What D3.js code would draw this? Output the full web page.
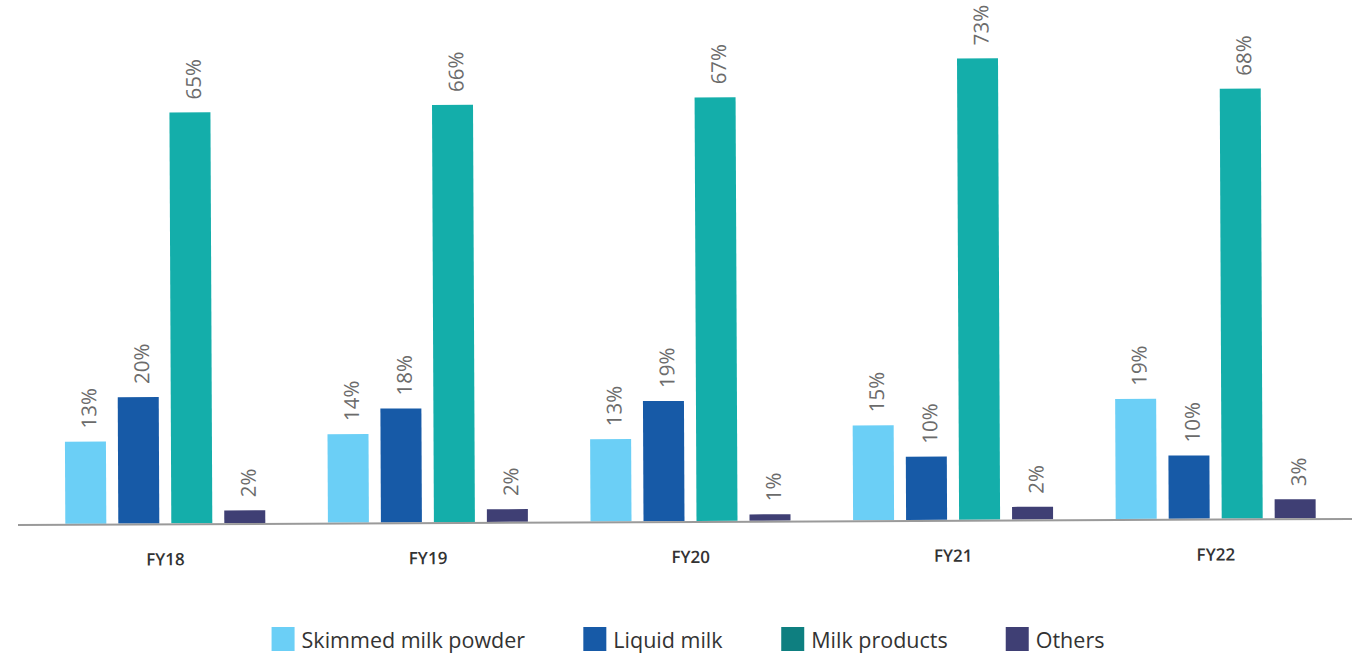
<!DOCTYPE html>
<html>
<head>
<meta charset="utf-8">
<script src="https://cdn.jsdelivr.net/npm/d3@7"></script>
<style>
  body { margin: 0; background: #fff; }
  svg { display: block; font-family: "Open Sans", Roboto, sans-serif; }
</style>
</head>
<body>
<svg id="chart" width="1352" height="654"></svg>
<script>
// data
const years = ['FY18', 'FY19', 'FY20', 'FY21', 'FY22'];
const seriesNames = ['Skimmed milk powder', 'Liquid milk', 'Milk products', 'Others'];
const skimmedMilkPowder = [13, 14, 13, 15, 19];
const liquidMilk = [20, 18, 19, 10, 10];
const milkProducts = [65, 66, 67, 73, 68];
const others = [2, 2, 1, 2, 3];
const barColors = ['#6bcff6', '#175aa7', '#14aeaa', '#3f3f74'];
const legendColors = ['#6bcff6', '#175aa7', '#0e7f80', '#3f3f74'];

const seriesValues = [skimmedMilkPowder, liquidMilk, milkProducts, others];

const svg = d3.select('#chart');
const baseY = 521;
const groupWidth = 200;

// the source picture is tilted a little, so the plot is too
const plot = svg.append('g')
  .attr('transform', `rotate(-0.26, 685, ${baseY})`);

const x0 = d3.scaleBand()
  .domain(years)
  .range([34, 1347]);

const x1 = d3.scaleBand()
  .domain(seriesNames)
  .range([0, groupWidth])
  .paddingInner(12 / 53);

const y = d3.scaleLinear()
  .domain([0, 73])
  .range([baseY, baseY - 73 * 6.32]);

const rows = [];
years.forEach((yr, i) => {
  seriesNames.forEach((s, j) => {
    rows.push({ year: yr, series: s, value: seriesValues[j][i], color: barColors[j] });
  });
});

const groupOffset = (x0.bandwidth() - groupWidth) / 2;

plot.selectAll('rect.bar')
  .data(rows)
  .enter()
  .append('rect')
  .attr('class', 'bar')
  .attr('x', d => x0(d.year) + groupOffset + x1(d.series))
  .attr('y', d => y(d.value))
  .attr('width', x1.bandwidth())
  .attr('height', d => y(0) - y(d.value))
  .attr('fill', d => d.color);

// value labels, rotated
plot.selectAll('text.val')
  .data(rows)
  .enter()
  .append('text')
  .attr('class', 'val')
  .attr('transform', d => {
    const cx = x0(d.year) + groupOffset + x1(d.series) + x1.bandwidth() / 2;
    return `translate(${cx + 11}, ${y(d.value) - 13}) rotate(-90)`;
  })
  .attr('font-size', 20.5)
  .attr('fill', '#6b6b6b')
  .text(d => d.value + '%');

// baseline
plot.append('line')
  .attr('x1', 18)
  .attr('x2', 1352)
  .attr('y1', baseY + 1)
  .attr('y2', baseY + 1)
  .attr('stroke', '#9a9a9a')
  .attr('stroke-width', 2);

// category labels
plot.selectAll('text.cat')
  .data(years)
  .enter()
  .append('text')
  .attr('class', 'cat')
  .attr('x', d => x0(d) + x0.bandwidth() / 2)
  .attr('y', 563)
  .attr('text-anchor', 'middle')
  .attr('font-size', 17)
  .attr('font-weight', 600)
  .attr('fill', '#333')
  .text(d => d);

// legend
const legend = svg.append('g');
const items = legend.selectAll('g.item')
  .data(seriesNames)
  .enter()
  .append('g')
  .attr('class', 'item');

items.append('rect')
  .attr('width', 23)
  .attr('height', 24)
  .attr('y', 627)
  .attr('fill', (d, i) => legendColors[i]);

items.append('text')
  .attr('x', 30)
  .attr('y', 648)
  .attr('font-size', 21.5)
  .attr('fill', '#333')
  .text(d => d);

let cursor = 0;
const gap = 58;
const widths = [];
items.each(function() {
  widths.push(this.getBBox().width);
});
const total = d3.sum(widths) + gap * (widths.length - 1);
cursor = 688 - total / 2;
items.attr('transform', (d, i) => {
  const t = `translate(${cursor}, 0)`;
  cursor += widths[i] + gap;
  return t;
});
</script>
</body>
</html>
